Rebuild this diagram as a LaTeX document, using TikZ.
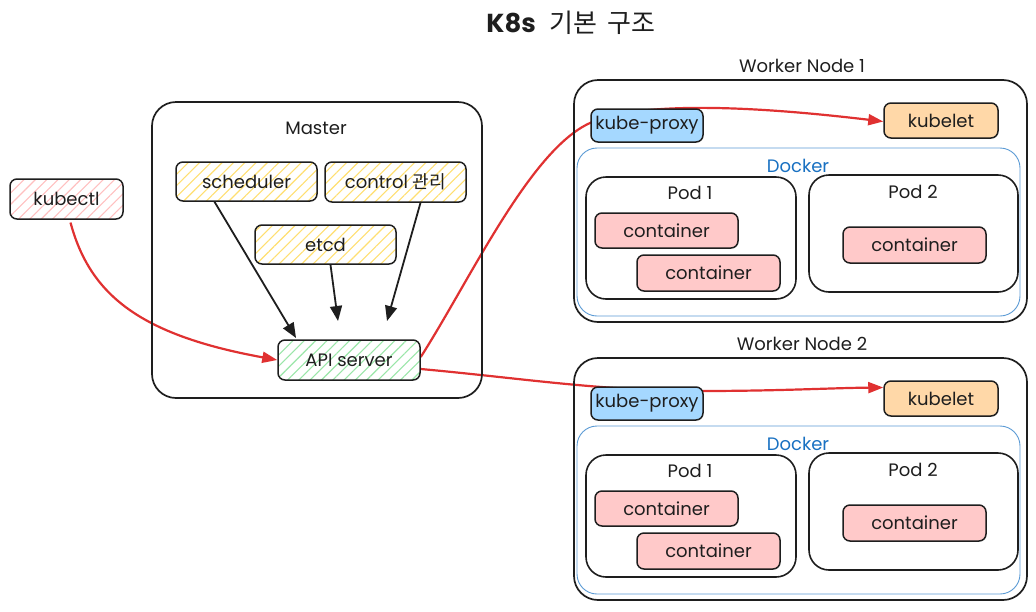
\documentclass[tikz,border=0pt]{standalone}
\usepackage{fontspec}
\setmainfont{Poppins}
\newfontfamily\kr{Noto Sans CJK KR}
\usetikzlibrary{arrows.meta,patterns.meta,calc}
\definecolor{ink}{HTML}{1E1E1E}
\definecolor{hred}{HTML}{E03131}
\definecolor{pinkh}{HTML}{FFC0C0}
\definecolor{yelh}{HTML}{FFDF70}
\definecolor{greenh}{HTML}{9AE6A8}
\definecolor{bluef}{HTML}{A5D8FF}
\definecolor{orangef}{HTML}{FFD8A8}
\definecolor{contf}{HTML}{FFC9C9}
\definecolor{dockblue}{HTML}{1971C2}
\definecolor{dockline}{HTML}{5B9BD5}
\pgfdeclarelayer{background}
\pgfdeclarelayer{conn}
\pgfsetlayers{background,conn,main}
\tikzset{
  txt/.style={font=\fontsize{18}{20}\selectfont, text=ink},
  sbox/.style={draw=ink, line width=1.5pt, rounded corners=7pt, inner sep=0pt, txt},
  bigbox/.style={draw=ink, line width=1.7pt, rounded corners=24pt, inner sep=0pt},
  podbox/.style={draw=ink, line width=1.6pt, rounded corners=20pt, inner sep=0pt},
  dockbox/.style={draw=dockline, line width=0.9pt, rounded corners=20pt, inner sep=0pt},
  hatch/.style={pattern={Lines[angle=45,distance=8pt,line width=1.1pt]}, pattern color=#1},
  lbl/.style={txt, inner sep=0pt},
  redarrow/.style={draw=hred, line width=2.2pt, -{Triangle[length=15pt,width=11pt]}},
  blkarrow/.style={draw=ink, line width=1.8pt, -{Triangle[length=15pt,width=12pt]}},
}
\newcommand\workernode[3]{%
\begin{scope}[yshift=-#2pt]
  \node[lbl] (#1lab) at (802,66) {Worker Node #3};
  \node[bigbox, minimum width=453pt, minimum height=242pt] (#1) at (800.5,201) {};
  \node[dockbox, minimum width=443pt, minimum height=168pt] (#1dock) at (798.5,232) {};
  \node[lbl, text=dockblue] (#1docklab) at (798,166) {Docker};
  \node[sbox, fill=bluef, minimum width=112pt, minimum height=33pt] (#1proxy) at (647,125.5) {kube-proxy};
  \node[sbox, fill=orangef, minimum width=114pt, minimum height=35pt] (#1kubelet) at (941,120.5) {kubelet};
  \node[podbox, minimum width=210pt, minimum height=122pt] (#1pa) at (691,238) {};
  \node[lbl] (#1pal) at (690,193) {Pod 1};
  \node[podbox, minimum width=209pt, minimum height=117pt] (#1pb) at (913.5,233.5) {};
  \node[lbl] (#1pbl) at (913,192) {Pod 2};
  \node[sbox, fill=contf, minimum width=143pt, minimum height=35pt] (#1ca) at (666.5,230.5) {container};
  \node[sbox, fill=contf, minimum width=143pt, minimum height=36pt] (#1cb) at (708.5,273) {container};
  \node[sbox, fill=contf, minimum width=143pt, minimum height=36pt] (#1cc) at (914.5,245) {container};
\end{scope}}
\begin{document}
\begin{tikzpicture}[x=1pt,y=-1pt]
\begin{pgfonlayer}{background}
  \fill[white] (0,0) rectangle (1036,611);
\end{pgfonlayer}
\useasboundingbox (0,0) rectangle (1036,611);
% title
\node[inner sep=0pt, text=ink] (title) at (571,23) {\fontsize{26}{28}\selectfont\bfseries K8s\hspace{14pt}{\kr\mdseries 기본\hspace{10pt}구조}};
% kubectl
\node[sbox, hatch=pinkh, minimum width=113pt, minimum height=40pt] (kubectl) at (66.5,199) {kubectl};
% master
\node[bigbox, minimum width=330pt, minimum height=296pt] (master) at (317,250) {};
\node[lbl] (masterlab) at (316,128) {Master};
\node[sbox, hatch=yelh, minimum width=141pt, minimum height=39pt] (sched) at (246.5,181.5) {scheduler};
\node[sbox, hatch=yelh, minimum width=141pt, minimum height=40pt] (ctrl) at (395.5,182) {control {\kr 관리}};
\node[sbox, hatch=yelh, minimum width=141pt, minimum height=39pt] (etcd) at (325.5,244.5) {etcd};
\node[sbox, hatch=greenh, minimum width=142pt, minimum height=40pt] (api) at (349,360) {API server};
% workers
\workernode{wa}{0}{1}
\workernode{wb}{278}{2}
% black arrows
\coordinate (schedtip) at (296,338);
\coordinate (etcdtip) at (338,321);
\coordinate (ctrltip) at (387,321);
\draw[blkarrow] ($(sched.south)+(-32,0)$) -- (schedtip);
\draw[blkarrow] ($(etcd.south)+(5,0)$) -- (etcdtip);
\draw[blkarrow] ($(ctrl.south)+(25,0)$) -- (ctrltip);
% red arrows
\begin{pgfonlayer}{conn}
\draw[redarrow] ($(kubectl.south)+(4,3)$) .. controls (90,295) and (140,335) .. (api.west);
\draw[redarrow] ($(api.east)+(0,-3)$) .. controls (470,280) and (530,150) .. (590,123)
   .. controls (630,105) and (720,102) .. ($(wakubelet.west)+(0,1)$);
\draw[redarrow] ($(api.east)+(0,9)$) .. controls (520,378) and (600,391) .. (700,391)
   .. controls (780,391) and (830,388) .. ($(wbkubelet.west)+(0,-11)$);
\end{pgfonlayer}
\end{tikzpicture}
\end{document}
